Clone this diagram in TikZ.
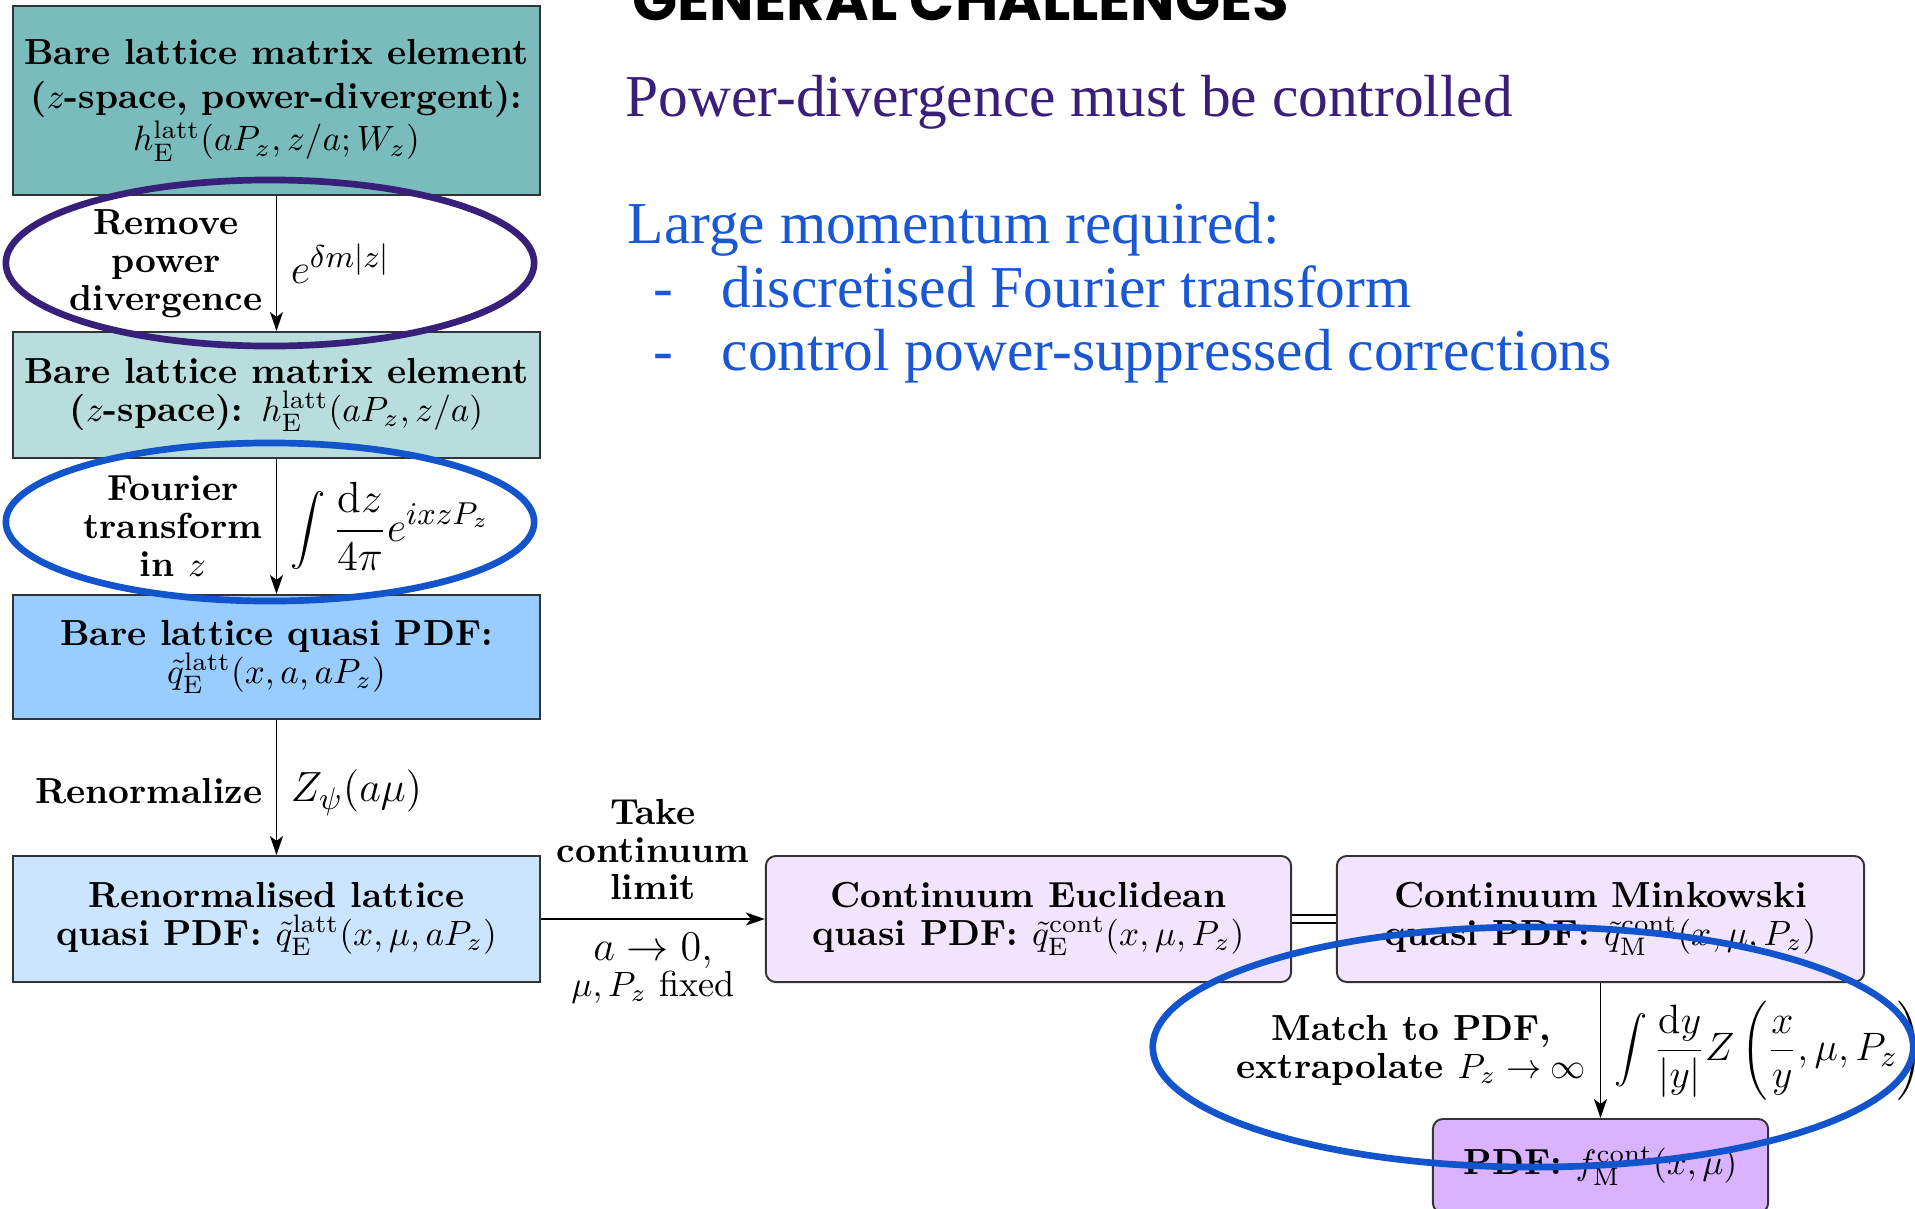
\documentclass[tikz,border=0pt]{standalone}
\usepackage{fontspec}
\usetikzlibrary{arrows.meta}
\newfontfamily\headfont{Poppins}
\newfontfamily\slidefont{Liberation Serif}

\definecolor{tealA}{HTML}{7ABCBB}
\definecolor{tealB}{HTML}{B9DDDC}
\definecolor{blueA}{HTML}{99CCFF}
\definecolor{blueB}{HTML}{CCE5FF}
\definecolor{lilacA}{HTML}{F0E5FC}
\definecolor{lilacB}{HTML}{D9B3FF}
\definecolor{ringPurple}{HTML}{36207A}
\definecolor{ringBlue}{HTML}{1254CC}
\definecolor{txtPurple}{HTML}{3A1F7A}
\definecolor{txtBlue}{HTML}{1A57D3}

\begin{document}
\begin{tikzpicture}[x=0.01cm, y=-0.01cm,
  diag/.style={font=\fontsize{10.3}{10.8}\selectfont\bfseries},
  box/.style={diag, draw=black!80, line width=0.55pt, align=center, inner sep=2pt},
  sqbox/.style={box, minimum width=5.27cm, minimum height=1.26cm},
  rbox/.style={box, rounded corners=0.1cm, fill=lilacA, minimum height=1.26cm},
  lbl/.style={diag, align=center, inner sep=3.8pt},
  mlbl/.style={font=\fontsize{12.4}{14}\selectfont, inner sep=3.8pt},
  arr/.style={-{Stealth[length=1.9mm,width=1.3mm,inset=0.5mm]}, line width=0.55pt},
  ring/.style={line width=1.9pt},
  slide/.style={anchor=base west, inner sep=0pt, font=\slidefont\fontsize{16.9}{20}\selectfont}
]
\useasboundingbox (0,0) rectangle (1915,1209);
\clip (0,0) rectangle (1915,1209);
\fill[white] (0,0) rectangle (1915,1209);

% slide heading and bullet text
\node[anchor=base west, inner sep=0pt] (head) at (632,20)
  {\resizebox{6.56cm}{!}{\headfont\bfseries GENERAL CHALLENGES}};
\node[slide, text=txtPurple] (pd) at (625,116) {Power-divergence must be controlled};
\node[slide, text=txtBlue] (lm) at (627,243) {Large momentum required:};
\node[slide, text=txtBlue] (dashA) at (653,307) {-};
\node[slide, text=txtBlue] (ft) at (721,307) {discretised Fourier transform};
\node[slide, text=txtBlue] (dashB) at (653,370) {-};
\node[slide, text=txtBlue] (pc) at (721,370) {control power-suppressed corrections};

% lattice chain
\node[sqbox, fill=tealA, minimum height=1.89cm] (b1) at (276.5,100.5)
  {Bare lattice matrix element\\[1.5pt] ($z$-space, power-divergent):\\ $h_{\mathrm{E}}^{\mathrm{latt}}(aP_z, z/a; W_z)$};
\node[sqbox, fill=tealB] (b2) at (276.5,395)
  {Bare lattice matrix element\\ ($z$-space): $h_{\mathrm{E}}^{\mathrm{latt}}(aP_z, z/a)$};
\node[sqbox, fill=blueA, minimum height=1.24cm] (b3) at (276.5,657)
  {Bare lattice quasi PDF:\\ $\tilde q_{\mathrm{E}}^{\mathrm{latt}}(x, a, aP_z)$};
\node[sqbox, fill=blueB] (b4) at (276.5,919)
  {Renormalised lattice\\ quasi PDF: $\tilde q_{\mathrm{E}}^{\mathrm{latt}}(x, \mu, aP_z)$};

% continuum chain
\node[rbox, minimum width=5.25cm] (ce) at (1028.5,919)
  {Continuum Euclidean\\ quasi PDF: $\tilde q_{\mathrm{E}}^{\mathrm{cont}}(x, \mu, P_z)$};
\node[rbox, minimum width=5.27cm] (cm) at (1600.5,919)
  {Continuum Minkowski\\ quasi PDF: $\tilde q_{\mathrm{M}}^{\mathrm{cont}}(x, \mu, P_z)$};
\node[rbox, fill=lilacB, minimum width=3.35cm, minimum height=0.94cm] (pdf) at (1600.5,1166)
  {PDF: $f_{\mathrm{M}}^{\mathrm{cont}}(x, \mu)$};

% steps
\draw[arr] (b1.south) -- node[lbl, left] {Remove\\ power\\ divergence}
  node[mlbl, right] {$e^{\delta m|z|}$} (b2.north);
\draw[arr] (b2.south) -- node[lbl, left] {Fourier\\ transform\\ in $z$}
  node[mlbl, right] {$\displaystyle\int\frac{\mathrm{d}z}{4\pi}e^{ixzP_z}$} (b3.north);
\draw[arr] (b3.south) -- node[lbl, left, yshift=-1pt] {Renormalize}
  node[mlbl, right, yshift=-1.5pt] {$Z_\psi(a\mu)$} (b4.north);
\draw[arr, line width=0.7pt] (b4.east) -- node[lbl, above, yshift=1.2pt] {Take\\ continuum\\ limit}
  node[below, align=center, inner sep=1.5pt, yshift=-2.2pt, font=\fontsize{10.3}{10.8}\selectfont]
  {{\fontsize{12.4}{14}\selectfont$a\to 0,$}\\[-0.5pt] $\mu, P_z$ fixed} (ce.west);
\draw[double, double distance=0.06cm, line width=0.55pt] (ce.east) -- (cm.west);
\draw[arr] (cm.south) -- node[lbl, left] {Match to PDF,\\ extrapolate $P_z\to\infty$}
  node[mlbl, right] {\scalebox{0.94}{$\displaystyle\int\frac{\mathrm{d}y}{|y|}Z\left(\frac{x}{y},\mu,P_z\right)$}} (pdf.north);

% highlight rings
\draw[ring, ringPurple] (270,263) ellipse [x radius=2.64cm, y radius=0.83cm];
\draw[ring, ringBlue] (270,522) ellipse [x radius=2.64cm, y radius=0.79cm];
\draw[ring, ringBlue] (1533,1047) ellipse [x radius=3.8cm, y radius=1.2cm];
\end{tikzpicture}
\end{document}
